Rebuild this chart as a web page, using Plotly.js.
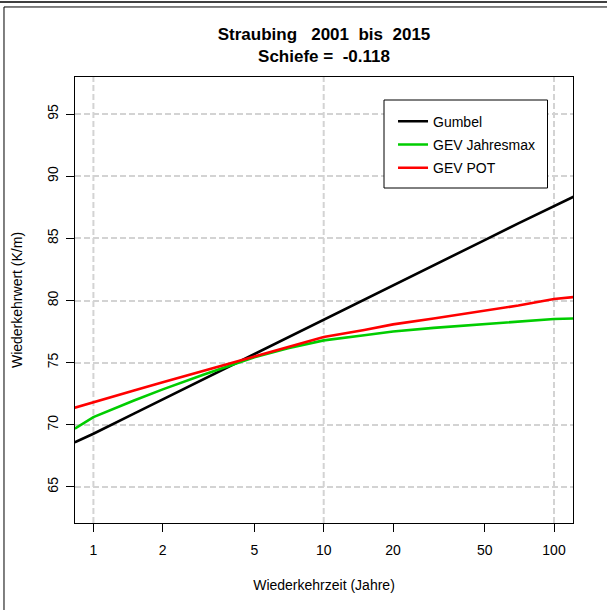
<!DOCTYPE html>
<html>
<head>
<meta charset="utf-8">
<script src="https://cdn.plot.ly/plotly-3.0.1.min.js"></script>
<style>
  html, body { margin: 0; padding: 0; background: #ffffff; }
  #chart { width: 607px; height: 610px; }
</style>
</head>
<body>
<div id="chart"></div>
<script>
// Wiederkehrzeit T (Jahre) und Wiederkehrwerte (K/m) der drei Verteilungsanpassungen
const returnPeriods = [0.83, 1, 1.5, 2, 3, 5, 7, 10, 15, 20, 30, 50, 70, 100, 122];
const gumbel        = [68.60, 69.28, 70.90, 72.04, 73.66, 75.70, 77.03, 78.45, 80.06, 81.20, 82.82, 84.86, 86.20, 87.62, 88.36];
const gevAnnualMax  = [69.70, 70.62, 71.95, 72.85, 74.02, 75.43, 76.16, 76.79, 77.20, 77.50, 77.80, 78.10, 78.33, 78.51, 78.56];
const gevPot        = [71.38, 71.83, 72.75, 73.42, 74.35, 75.53, 76.28, 77.06, 77.63, 78.08, 78.55, 79.18, 79.60, 80.12, 80.28];

const seriesNames  = ['Gumbel', 'GEV Jahresmax', 'GEV POT'];
const seriesColors = ['#000000', '#00cd00', '#ff0000'];

const xTickVals  = [1, 2, 5, 10, 20, 50, 100];
const xTickText  = ['1', '2', '5', '10', '20', '50', '100'];
const xGridVals  = [1, 10, 100];
const yTickVals  = [65, 70, 75, 80, 85, 90, 95];
const yTickText  = ['65', '70', '75', '80', '85', '90', '95'];

const FONT = 'Liberation Sans, Arial, Helvetica, sans-serif';
const GRID = { color: '#d3d3d3', width: 2, dash: '6px,3px' };

const traces = [gumbel, gevAnnualMax, gevPot].map((vals, i) => ({
  type: 'scatter',
  mode: 'lines',
  x: returnPeriods,
  y: vals,
  name: seriesNames[i],
  legendgroup: 'g' + i,
  line: { color: seriesColors[i], width: 2.6 },
  hoverinfo: 'skip'
}));

// vertikale Hilfslinien nur bei 1, 10, 100 Jahren
const xGridShapes = xGridVals.map(v => ({
  type: 'line', xref: 'x', yref: 'paper',
  x0: v, x1: v, y0: 0, y1: 1,
  layer: 'below',
  line: { color: GRID.color, width: GRID.width, dash: GRID.dash }
}));

// Rahmen um die Legende
const legendBox = {
  type: 'rect', xref: 'paper', yref: 'paper',
  x0: 0.6205, x1: 0.9488, y0: 0.7511, y1: 0.9484,
  layer: 'above',
  fillcolor: '#ffffff',
  line: { color: '#000000', width: 1 }
};

// äußerer Rahmen der Grafik
const frameShapes = [
  { type: 'line', xref: 'paper', yref: 'paper', x0: -0.1506, x1: 1.0683, y0: 1.1682, y1: 1.1682, line: { color: '#000000', width: 1.5 } },
  { type: 'line', xref: 'paper', yref: 'paper', x0: -0.1426, x1: 1.0683, y0: 1.1570, y1: 1.1570, line: { color: '#000000', width: 1 } },
  { type: 'line', xref: 'paper', yref: 'paper', x0: -0.1426, x1: -0.1426, y0: 1.1570, y1: -0.1951, line: { color: '#000000', width: 1 } }
];

const layout = {
  width: 607,
  height: 610,
  paper_bgcolor: '#ffffff',
  plot_bgcolor: '#ffffff',
  margin: { l: 75, r: 34, t: 77, b: 87, pad: 0 },
  font: { family: FONT, size: 14, color: '#000000' },
  showlegend: true,
  title: {
    text: 'Straubing\u00a0\u00a0\u00a02001\u00a0\u00a0bis\u00a0\u00a02015<br>Schiefe =\u00a0\u00a0-0.118',
    font: { family: FONT, size: 17, color: '#000000', weight: 700 },
    x: 0.5, xref: 'paper', xanchor: 'center',
    y: 0.934, yref: 'container', yanchor: 'top'
  },
  xaxis: {
    type: 'log',
    range: [-0.080, 2.0825],
    tickmode: 'array',
    tickvals: xTickVals,
    ticktext: xTickText,
    ticks: 'outside', ticklen: 8, tickwidth: 1, tickcolor: '#000000',
    ticklabelstandoff: 6,
    tickfont: { family: FONT, size: 14, color: '#000000' },
    showgrid: false, zeroline: false,
    showline: true, mirror: true, linecolor: '#000000', linewidth: 1,
    automargin: false,
    title: { text: 'Wiederkehrzeit (Jahre)', font: { family: FONT, size: 14, color: '#000000' }, standoff: 23 }
  },
  yaxis: {
    range: [62.1, 97.98],
    tickmode: 'array',
    tickvals: yTickVals,
    ticktext: yTickText,
    tickangle: -90,
    ticks: 'outside', ticklen: 8, tickwidth: 1, tickcolor: '#000000',
    ticklabelstandoff: 2,
    tickfont: { family: FONT, size: 14, color: '#000000' },
    showgrid: true, gridcolor: GRID.color, gridwidth: GRID.width, griddash: GRID.dash,
    zeroline: false,
    showline: true, mirror: true, linecolor: '#000000', linewidth: 1,
    automargin: false,
    title: { text: 'Wiederkehrwert (K/m)', font: { family: FONT, size: 14, color: '#000000' }, standoff: 19 }
  },
  legend: {
    x: 0.6386, y: 0.9357, xanchor: 'left', yanchor: 'top',
    xref: 'paper', yref: 'paper',
    bgcolor: 'rgba(0,0,0,0)', borderwidth: 0,
    font: { family: FONT, size: 14, color: '#000000' },
    traceorder: 'grouped', tracegroupgap: 2
  },
  shapes: xGridShapes.concat([legendBox], frameShapes)
};

Plotly.newPlot('chart', traces, layout, { staticPlot: true, displayModeBar: false });
</script>
</body>
</html>
